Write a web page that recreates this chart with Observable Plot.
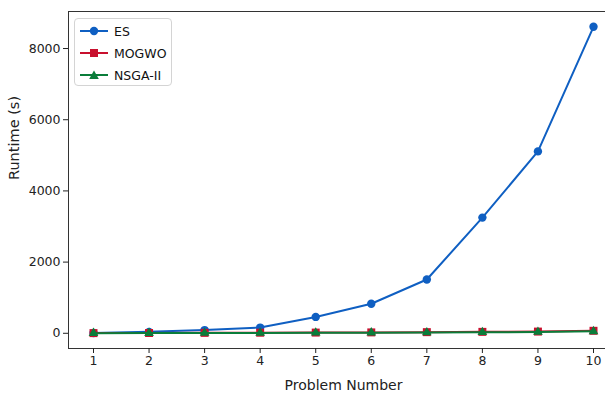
<!DOCTYPE html>
<html>
<head>
<meta charset="utf-8">
<script src="https://cdn.jsdelivr.net/npm/d3@7"></script>
<script src="https://cdn.jsdelivr.net/npm/@observablehq/plot@0.6"></script>
<style>
  html, body { margin: 0; padding: 0; background: #fff; }
  #wrap { position: relative; width: 605px; height: 393px; overflow: hidden; }
  #legend {
    position: absolute; left: 74px; top: 18px; width: 96px; height: 66px;
    border: 1px solid #d4d4d4; border-radius: 4px; background: rgba(255,255,255,0.85);
    font-family: "DejaVu Sans", sans-serif; font-size: 12.5px; color: #111;
  }
  #legend .row { position: absolute; left: 0; height: 20px; display: flex; align-items: center; }
  #legend svg { display: block; }
  #legend span { margin-left: 6px; }
</style>
</head>
<body>
<div id="wrap"><div id="legend"></div></div>
<script>
const problems = [1, 2, 3, 4, 5, 6, 7, 8, 9, 10];
const esRuntime    = [10, 40, 90, 160, 460, 830, 1510, 3250, 5110, 8610];
const mogwoRuntime = [5, 8, 12, 16, 20, 25, 32, 40, 48, 70];
const nsgaRuntime  = [3, 5, 8, 10, 14, 18, 22, 28, 35, 55];
const seriesNames  = ["ES", "MOGWO", "NSGA-II"];
const seriesColors = ["#0F5FC2", "#C8102E", "#0A7D3A"];
const seriesSymbols = ["circle", "square", "triangle"];
const yTicks = [0, 2000, 4000, 6000, 8000];
const xTicks = problems;

const allSeries = [esRuntime, mogwoRuntime, nsgaRuntime];
const rows = [];
allSeries.forEach((vals, s) => vals.forEach((v, i) => rows.push({series: seriesNames[s], problem: problems[i], runtime: v})));

const xPad = 0.05 * (d3.max(problems) - d3.min(problems));
const xDomain = [d3.min(problems) - xPad, d3.max(problems) + xPad];
const yMax = d3.max(rows, d => d.runtime), yMin = d3.min(rows, d => d.runtime);
const yPad = 0.05 * (yMax - yMin);
const yDomain = [yMin - yPad, yMax + yPad];

const W = 605, H = 393, mL = 68, mT = 11, mB = 45;
const plotW = 550; // full axes width (extends past the cropped right edge)

const marks = [];
seriesNames.forEach((name, s) => {
  const data = rows.filter(d => d.series === name);
  marks.push(Plot.line(data, {x: "problem", y: "runtime", stroke: seriesColors[s], strokeWidth: 2}));
  marks.push(Plot.dot(data, {x: "problem", y: "runtime", fill: seriesColors[s], stroke: "none",
    symbol: seriesSymbols[s], r: s === 0 ? 4.2 : (s === 1 ? 4.5 : 3.6)}));
});

const chart = Plot.plot({
  width: W, height: H,
  marginLeft: mL, marginRight: 0, marginTop: mT, marginBottom: mB,
  style: {fontFamily: "DejaVu Sans, sans-serif", fontSize: "12px", color: "#222", background: "#fff"},
  x: {domain: xDomain, range: [mL, mL + plotW]},
  y: {domain: yDomain},
  marks: [
    ...marks,
    Plot.frame({anchor: "left", stroke: "#333"}),
    Plot.frame({anchor: "top", stroke: "#333"}),
    Plot.frame({anchor: "bottom", stroke: "#333"}),
    Plot.axisY({ticks: yTicks, tickSize: 5, tickPadding: 3, tickFormat: d3.format("d"), label: null, fontSize: 12.5}),
    Plot.axisX({ticks: xTicks, tickSize: 5, tickPadding: 3, tickFormat: d3.format("d"), label: null, fontSize: 12.5}),
    Plot.text(["Runtime (s)"], {frameAnchor: "left", rotate: -90, dx: -54, fontSize: 14.5, fill: "#222", lineAnchor: "middle"}),
    Plot.text(["Problem Number"], {x: () => (xDomain[0] + xDomain[1]) / 2, frameAnchor: "bottom",
      dy: 37, fontSize: 14, fill: "#222", lineAnchor: "middle"})
  ]
});
document.getElementById("wrap").prepend(chart);

// legend
const legend = document.getElementById("legend");
const sym = {
  circle: c => `<circle cx="14" cy="10" r="4.2" fill="${c}"/>`,
  square: c => `<rect x="10" y="6" width="8" height="8" fill="${c}"/>`,
  triangle: c => `<path d="M14,5.5 L18.8,14 L9.2,14 Z" fill="${c}"/>`
};
seriesNames.forEach((name, s) => {
  const row = document.createElement("div");
  row.className = "row";
  row.style.top = (2 + s * 22) + "px";
  row.style.left = "5px";
  row.innerHTML = `<svg width="28" height="20"><line x1="0" y1="10" x2="28" y2="10" stroke="${seriesColors[s]}" stroke-width="2"/>${sym[seriesSymbols[s]](seriesColors[s])}</svg><span>${name}</span>`;
  legend.appendChild(row);
});
</script>
</body>
</html>
